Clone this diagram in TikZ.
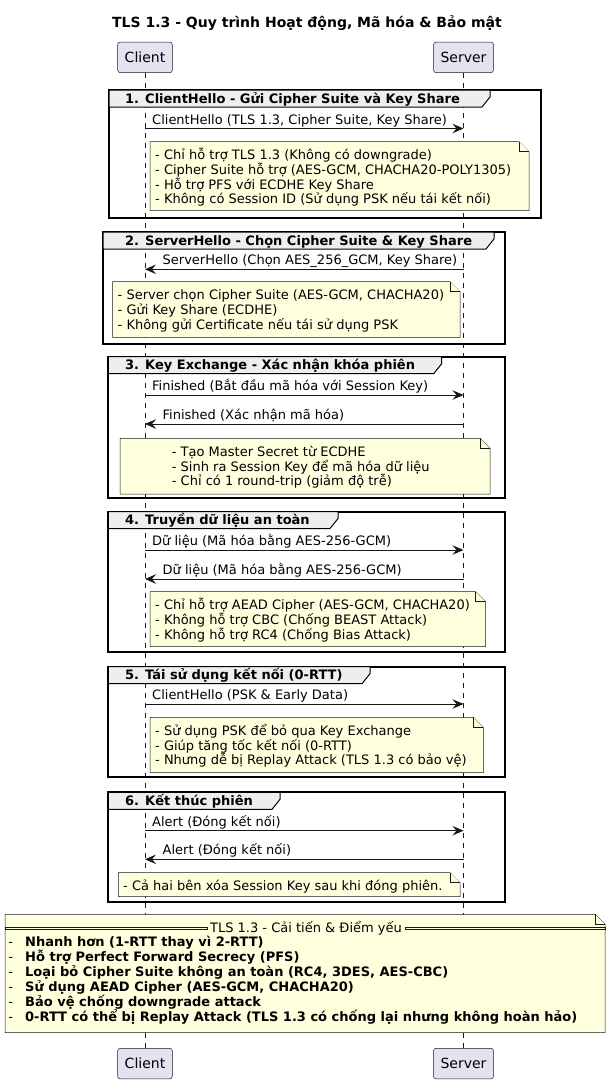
\documentclass[tikz,border=0pt]{standalone}
\usepackage{fontspec}
\setmainfont{DejaVu Sans}
\usetikzlibrary{
  arrows.meta,
  positioning,
  calc,
}
\definecolor{partfill}{HTML}{E2E2F0}
\definecolor{notefill}{HTML}{FEFFDD}
\definecolor{tabfill}{HTML}{EEEEEE}
\definecolor{lineclr}{HTML}{181818}
\def\cx{145}   % Client lifeline
\def\sx{463.5} % Server lifeline
\tikzset{
  >={Stealth[length=11pt,width=9.5pt,inset=4pt]},
  title/.style={
    anchor=base,
    inner sep=0pt,
    font=\fontsize{14}{16}\selectfont\bfseries
  },
  participant/.style={
    draw=lineclr,
    fill=partfill,
    line width=0.5pt,
    rounded corners=2.5pt,
    minimum height=30.5pt,
    inner xsep=7pt,
    font=\fontsize{14}{16}\selectfont
  },
  lifeline/.style={
    draw=lineclr,
    line width=0.5pt,
    dash pattern=on 5pt off 5pt
  },
  grp frame/.style={
    draw=black,
    line width=2pt
  },
  grp tab/.style={
    draw=black,
    fill=tabfill,
    line width=1pt
  },
  grp title/.style={
    anchor=base west,
    inner sep=0pt,
    font=\fontsize{13}{15}\selectfont\bfseries
  },
  msg/.style={
    draw=lineclr,
    line width=1pt,
    ->
  },
  msg label/.style={
    anchor=base west,
    inner sep=0pt,
    font=\fontsize{13}{15}\selectfont
  },
  my note/.style={
    draw=lineclr,
    fill=notefill,
    line width=0.5pt
  },
  note text/.style={
    anchor=north west,
    inner sep=0pt,
    align=left,
    font=\fontsize{13}{14.6}\selectfont,
    execute at begin node={\lineskiplimit=-20pt}
  },
  sep line/.style={
    draw=lineclr,
    line width=0.5pt
  },
}
% group frame with its tab: name, x1, y1, x2, y2, tab right, title
\newcommand{\grp}[7]{%
  \draw[grp frame] (#2,#3) rectangle (#4,#5);
  \filldraw[grp tab] (#2,#3) -- (#6,#3) -- (#6,#3+7) -- (#6-8,#3+17)
    -- (#2,#3+17) -- cycle;
  \node[grp title] (#1) at (125,#3+13) {#7};
}
% message client -> server: name, y, label
\newcommand{\msgcs}[3]{%
  \coordinate (#1a) at (\cx,#2);
  \coordinate (#1b) at (\sx,#2);
  \draw[msg] (#1a) -- (#1b);
  \node[msg label] (#1) at (152,#2-4.5) {#3};
}
% message server -> client: name, y, label
\newcommand{\msgsc}[3]{%
  \coordinate (#1a) at (\sx,#2);
  \coordinate (#1b) at (\cx,#2);
  \draw[msg] (#1a) -- (#1b);
  \node[msg label] (#1) at (162.5,#2-4.5) {#3};
}
% note shape with folded corner: x1, y1, x2, y2
\newcommand{\noteshape}[4]{%
  \filldraw[my note] (#1,#2) -- (#3-10,#2) -- (#3,#2+10) -- (#3,#4)
    -- (#1,#4) -- cycle;
  \draw[my note] (#3-10,#2) -- (#3-10,#2+10) -- (#3,#2+10);
}
% note with its text: name, x1, y1, x2, y2, text x, text
\newcommand{\mynote}[7]{%
  \noteshape{#2}{#3}{#4}{#5}
  \node[note text] (#1) at (#6,#3+4) {\rule{0pt}{14pt}#7};
}
\newcommand{\bul}[1]{\makebox[16.7pt][l]{-}\textbf{#1}}
\begin{document}
\begin{tikzpicture}[x=1pt,y=-1pt]
\useasboundingbox (0,0) rectangle (611,1084);

\node[title] (title) at (307,27.5) {TLS 1.3 - Quy trình Hoạt động, Mã hóa \& Bảo mật};

\node[participant] (clientTop) at (\cx,57.4) {Client};
\node[participant] (serverTop) at (\sx,57.4) {Server};
\node[participant] (clientBot) at (\cx,1063.6) {Client};
\node[participant] (serverBot) at (\sx,1063.6) {Server};
\draw[lifeline] (clientTop) -- (clientBot);
\draw[lifeline] (serverTop) -- (serverBot);

% 1
\grp{g1}{109}{90}{541}{218}{490}{1. ClientHello - Gửi Cipher Suite và Key Share}
\msgcs{m1}{128.5}{ClientHello (TLS 1.3, Cipher Suite, Key Share)}
\mynote{n1}{150}{141.7}{529}{210.7}{155}{- Chỉ hỗ trợ TLS 1.3 (Không có downgrade)\\
- Cipher Suite hỗ trợ (AES-GCM, CHACHA20-POLY1305)\\
- Hỗ trợ PFS với ECDHE Key Share\\
- Không có Session ID (Sử dụng PSK nếu tái kết nối)}

% 2
\grp{g2}{103}{232}{505}{344}{494}{2. ServerHello - Chọn Cipher Suite \& Key Share}
\msgsc{m2}{269.3}{ServerHello (Chọn AES\_256\_GCM, Key Share)}
\mynote{n2}{112.7}{281.7}{460}{337.3}{117.5}{- Server chọn Cipher Suite (AES-GCM, CHACHA20)\\
- Gửi Key Share (ECDHE)\\
- Không gửi Certificate nếu tái sử dụng PSK}

% 3
\grp{g3}{108.3}{356.7}{505}{498.3}{441.7}{3. Key Exchange - Xác nhận khóa phiên}
\msgcs{m3a}{395}{Finished (Bắt đầu mã hóa với Session Key)}
\msgsc{m3b}{424}{Finished (Xác nhận mã hóa)}
\mynote{n3}{120}{438.3}{490}{494}{171.7}{- Tạo Master Secret từ ECDHE\\
- Sinh ra Session Key để mã hóa dữ liệu\\
- Chỉ có 1 round-trip (giảm độ trễ)}

% 4
\grp{g4}{108.3}{511.5}{505}{652.3}{338}{4. Truyền dữ liệu an toàn}
\msgcs{m4a}{550}{Dữ liệu (Mã hóa bằng AES-256-GCM)}
\msgsc{m4b}{579}{Dữ liệu (Mã hóa bằng AES-256-GCM)}
\mynote{n4}{150}{591.7}{485.7}{646.7}{155}{- Chỉ hỗ trợ AEAD Cipher (AES-GCM, CHACHA20)\\
- Không hỗ trợ CBC (Chống BEAST Attack)\\
- Không hỗ trợ RC4 (Chống Bias Attack)}

% 5
\grp{g5}{108.3}{666.7}{505}{777.3}{370}{5. Tái sử dụng kết nối (0-RTT)}
\msgcs{m5}{704}{ClientHello (PSK \& Early Data)}
\mynote{n5}{150}{717.3}{483.3}{772.5}{155}{- Sử dụng PSK để bỏ qua Key Exchange\\
- Giúp tăng tốc kết nối (0-RTT)\\
- Nhưng dễ bị Replay Attack (TLS 1.3 có bảo vệ)}

% 6
\grp{g6}{108.3}{792.3}{505}{902.3}{280}{6. Kết thúc phiên}
\msgcs{m6a}{830.7}{Alert (Đóng kết nối)}
\msgsc{m6b}{859.3}{Alert (Đóng kết nối)}
\mynote{n6}{118.3}{872.7}{460}{896.7}{123}{- Cả hai bên xóa Session Key sau khi đóng phiên.}

% summary note
\noteshape{5}{914.3}{605}{1032.7}
\node[msg label,anchor=base] (sumtitle) at (306,932.8) {TLS 1.3 - Cải tiến \& Điểm yếu};
\draw[sep line] (5,927) rectangle ($(sumtitle.west |- 0,929.7)+(-3,0)$);
\draw[sep line] ($(sumtitle.east |- 0,927)+(3,0)$) rectangle (605,929.7);
\node[note text,
      font=\fontsize{13}{14.9}\selectfont] (sum) at (8.3,932.5) {\rule{0pt}{14pt}%
\bul{Nhanh hơn (1-RTT thay vì 2-RTT)}\\
\bul{Hỗ trợ Perfect Forward Secrecy (PFS)}\\
\bul{Loại bỏ Cipher Suite không an toàn (RC4, 3DES, AES-CBC)}\\
\bul{Sử dụng AEAD Cipher (AES-GCM, CHACHA20)}\\
\bul{Bảo vệ chống downgrade attack}\\
\bul{0-RTT có thể bị Replay Attack (TLS 1.3 có chống lại nhưng không hoàn hảo)}};
\end{tikzpicture}
\end{document}
